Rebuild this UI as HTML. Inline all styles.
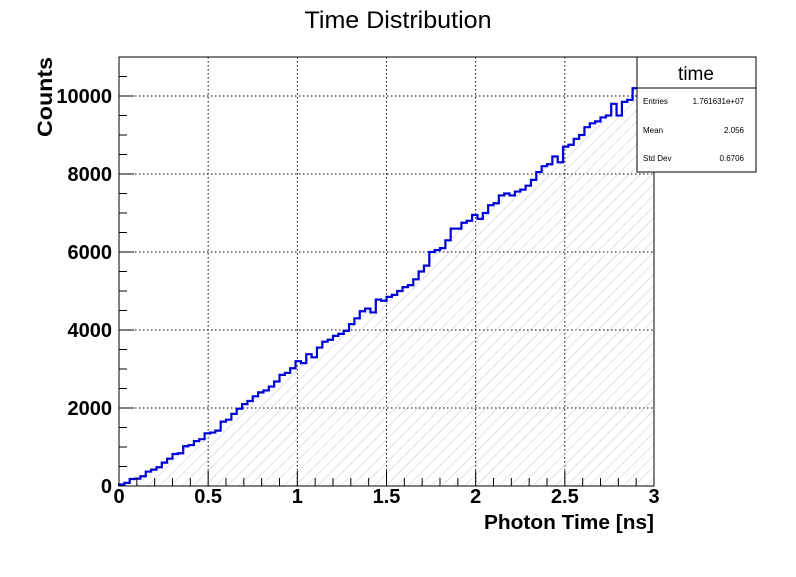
<!DOCTYPE html>
<html><head><meta charset="utf-8"><style>
body{margin:0;background:#fff}
svg text{font-family:"Liberation Sans",sans-serif}
</style></head><body>
<svg id="c" width="796" height="572" viewBox="0 0 796 572" xmlns="http://www.w3.org/2000/svg">
<defs>
<pattern id="hatch" patternUnits="userSpaceOnUse" width="8" height="8" patternTransform="rotate(45)">
<line x1="0" y1="0" x2="0" y2="8" stroke="#c4c4d8" stroke-width="1"/>
</pattern>
</defs>
<rect width="796" height="572" fill="#fff"/>
<text x="398" y="28" font-size="24" text-anchor="middle" textLength="187" lengthAdjust="spacingAndGlyphs">Time Distribution</text>
<g id="grid"></g>
<g id="hist"></g>
<rect x="119" y="57" width="535" height="429" fill="none" stroke="#000" stroke-width="1"/>
<g id="axes"></g>
<text x="654" y="529" font-size="20" font-weight="bold" text-anchor="end" textLength="170" lengthAdjust="spacingAndGlyphs">Photon Time [ns]</text>
<text transform="translate(52,137) rotate(-90)" font-size="21" font-weight="bold" text-anchor="start" textLength="80" lengthAdjust="spacingAndGlyphs">Counts</text>
<g>
<rect x="637" y="57" width="119" height="115" fill="#fff" stroke="#000" stroke-width="1"/>
<line x1="637" y1="88" x2="756" y2="88" stroke="#000"/>
<text x="696" y="80" font-size="19" text-anchor="middle">time</text>
<text x="643" y="104" font-size="8">Entries</text><text x="744" y="104" font-size="8" text-anchor="end">1.761631e+07</text>
<text x="643" y="133" font-size="8">Mean</text><text x="744" y="133" font-size="8" text-anchor="end">2.056</text>
<text x="643" y="161" font-size="8">Std Dev</text><text x="744" y="161" font-size="8" text-anchor="end">0.6706</text>
</g>
</svg>
<script>
const counts = [40,80,180,190,250,370,420,480,600,700,
820,840,1020,1050,1150,1200,1350,1370,1420,1650,
1700,1850,1980,2100,2180,2300,2400,2450,2550,2680,
2850,2900,3020,3200,3150,3380,3300,3550,3700,3750,
3850,3900,3980,4150,4300,4480,4550,4450,4780,4750,
4850,4900,5000,5100,5150,5300,5500,5650,6000,6050,
6100,6300,6600,6600,6750,6800,6950,6850,7000,7200,
7250,7450,7500,7450,7550,7600,7700,7850,8050,8200,
8250,8450,8300,8700,8750,8900,9000,9200,9300,9350,
9450,9500,9800,9500,9850,9900,10200,10100,10300,10350];
const xMin = 0, xMax = 3;
const yMin = 0, yMax = 11000;
const xTicks = [0,0.5,1,1.5,2,2.5,3];
const xTickLabels = ["0","0.5","1","1.5","2","2.5","3"];
const yTicks = [0,2000,4000,6000,8000,10000];
const yTickLabels = ["0","2000","4000","6000","8000","10000"];
const X = v => 119 + (v - xMin) / (xMax - xMin) * 535;
const Y = v => 486 - (v - yMin) / (yMax - yMin) * 429;
const NS = "http://www.w3.org/2000/svg";
function mk(tag, attrs, parent){const e=document.createElementNS(NS,tag);for(const k in attrs)e.setAttribute(k,attrs[k]);parent.appendChild(e);return e;}
const grid = document.getElementById('grid'), hist = document.getElementById('hist'), axes = document.getElementById('axes');
xTicks.forEach((t,i)=>{ if(t>xMin&&t<xMax){const l=mk('line',{x1:X(t),x2:X(t),y1:57,y2:486,stroke:'#000','stroke-dasharray':'1.5,2.5','stroke-width':1},grid);

}});
yTicks.forEach(t=>{ if(t>yMin){const l=mk('line',{x1:119,x2:654,y1:Y(t),y2:Y(t),stroke:'#000','stroke-dasharray':'1.5,2.5','stroke-width':1},grid);

}});
const n = counts.length, w = (xMax-xMin)/n;
let d = `M${X(xMin)},${Y(0)}`;
counts.forEach((c,i)=>{ d += ` L${X(xMin+i*w)},${Y(c)} L${X(xMin+(i+1)*w)},${Y(c)}`; });
const fill = mk('path',{d:d+` L${X(xMax)},${Y(0)} Z`,fill:'url(#hatch)',stroke:'none'},hist);


const line = mk('path',{d:d,fill:'none',stroke:'#0000d8','stroke-width':2.2},hist);


for(let v=0; v<=3.0001; v+=0.1){ const major = Math.abs(v*2-Math.round(v*2))<1e-6;
 mk('line',{x1:X(v),x2:X(v),y1:486,y2:486-(major?15:8),stroke:'#000'},axes);}
xTicks.forEach((t,i)=>{const tx=mk('text',{x:X(t),y:503,'font-size':20,'font-weight':'bold','text-anchor':'middle'},axes);tx.textContent=xTickLabels[i];

});
for(let v=0; v<=yMax; v+=500){ const major = v%2000===0;
 mk('line',{x1:119,x2:119+(major?15:8),y1:Y(v),y2:Y(v),stroke:'#000'},axes);}
yTicks.forEach((t,i)=>{const tx=mk('text',{x:112,y:Y(t)+7,'font-size':20,'font-weight':'bold','text-anchor':'end'},axes);tx.textContent=yTickLabels[i];

});
</script>
</body></html>
